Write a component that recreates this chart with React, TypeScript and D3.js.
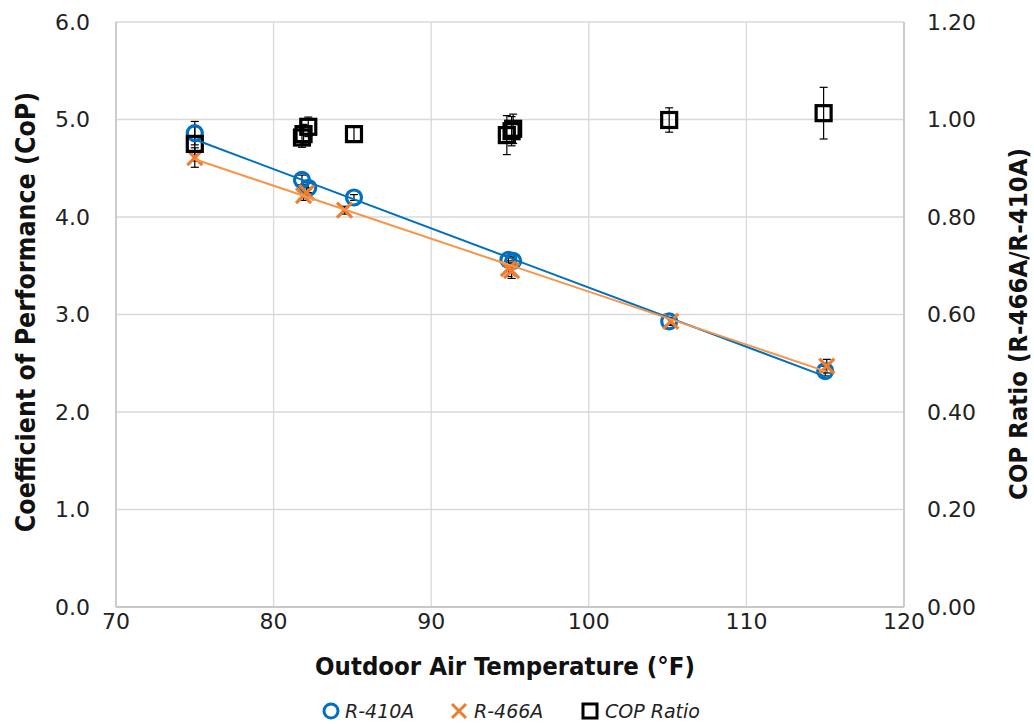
import React from "react";
import * as d3 from "d3";

// R-410A
const tempsA = [75, 81.8, 82.2, 85.1, 94.9, 95.2, 105.1, 115];
const copA = [4.86, 4.38, 4.3, 4.2, 3.56, 3.55, 2.93, 2.42];
const errA = [0.12, 0.05, 0.05, 0.03, 0.04, 0.04, 0.04, 0.05];
// R-466A
const tempsB = [75, 81.9, 82.1, 84.5, 94.9, 95.1, 105.2, 115.1];
const copB = [4.61, 4.22, 4.25, 4.07, 3.47, 3.45, 2.93, 2.47];
const errB = [0.1, 0.05, 0.05, 0.04, 0.08, 0.08, 0.04, 0.07];
// COP Ratio
const tempsR = [75, 81.8, 81.9, 82.2, 85.1, 94.8, 95.1, 95.2, 105.1, 114.9];
const ratio = [0.95, 0.963, 0.97, 0.985, 0.97, 0.968, 0.976, 0.981, 0.999, 1.013];
const errR = [0.035, 0.02, 0.02, 0.02, 0.015, 0.04, 0.03, 0.03, 0.025, 0.053];

const xTicks = [70, 80, 90, 100, 110, 120];
const yTicks = [0, 1, 2, 3, 4, 5, 6];
const y2Ticks = [0, 0.2, 0.4, 0.6, 0.8, 1.0, 1.2];

const BLUE = "#0070C0";
const ORANGE = "#ED7D31";
const ORANGE_LINE = "#F7964A";

function fit(xs: number[], ys: number[]) {
  const mx = d3.mean(xs)!;
  const my = d3.mean(ys)!;
  let num = 0, den = 0;
  xs.forEach((x, i) => { num += (x - mx) * (ys[i] - my); den += (x - mx) ** 2; });
  const m = num / den;
  const b = my - m * mx;
  const [x0, x1] = d3.extent(xs) as [number, number];
  return [[x0, m * x0 + b], [x1, m * x1 + b]] as [number, number][];
}

export default function App() {
  const W = 1034, H = 724;
  const L = 116, R = 904, T = 22, B = 607;
  const x = d3.scaleLinear().domain([70, 120]).range([L, R]);
  const y = d3.scaleLinear().domain([0, 6]).range([B, T]);
  const y2 = d3.scaleLinear().domain([0, 1.2]).range([B, T]);
  const line = d3.line<[number, number]>().x(d => x(d[0])).y(d => y(d[1]));
  const fitA = fit(tempsA, copA);
  const fitB = fit(tempsB, copB);
  const tickFont = "'DejaVu Sans', sans-serif";
  const titleFont = "'DejaVu Sans Condensed', 'DejaVu Sans', sans-serif";
  const cap = 4;
  const ms = 7.5;
  const errBar = (cx: number, y0: number, y1: number, key: string) => (
    <g key={key} stroke="#000" strokeWidth={1.2}>
      <line x1={cx} x2={cx} y1={y0} y2={y1} />
      <line x1={cx - cap} x2={cx + cap} y1={y0} y2={y0} />
      <line x1={cx - cap} x2={cx + cap} y1={y1} y2={y1} />
    </g>
  );
  return (
    <svg width={W} height={H} style={{ position: "absolute", left: 0, top: 0, background: "#fff" }}>
      {/* grid */}
      {yTicks.map(t => (
        <line key={"gy" + t} x1={L} x2={R} y1={y(t)} y2={y(t)} stroke="#D9D9D9" strokeWidth={1.3} />
      ))}
      {xTicks.map(t => (
        <line key={"gx" + t} x1={x(t)} x2={x(t)} y1={T} y2={B} stroke="#D9D9D9" strokeWidth={1.3} />
      ))}
      <line x1={L} x2={L} y1={T} y2={B} stroke="#BFBFBF" strokeWidth={1.3} />
      <line x1={R} x2={R} y1={T} y2={B} stroke="#BFBFBF" strokeWidth={1.3} />
      <line x1={L} x2={R} y1={B} y2={B} stroke="#BFBFBF" strokeWidth={1.3} />

      {/* tick labels */}
      {yTicks.map(t => (
        <text key={"ly" + t} x={90} y={y(t)} dy="0.36em" textAnchor="end" fontFamily={tickFont} fontSize={22} fill="#222">
          {t.toFixed(1)}
        </text>
      ))}
      {y2Ticks.map(t => (
        <text key={"ly2" + t} x={927} y={y2(t)} dy="0.36em" textAnchor="start" fontFamily={tickFont} fontSize={22} fill="#222">
          {t.toFixed(2)}
        </text>
      ))}
      {xTicks.map(t => (
        <text key={"lx" + t} x={x(t)} y={629} textAnchor="middle" fontFamily={tickFont} fontSize={22} fill="#222">
          {t}
        </text>
      ))}

      {/* titles */}
      <text x={505} y={675} textAnchor="middle" fontFamily={titleFont} fontWeight="bold" fontSize={25.5} fill="#111">
        Outdoor Air Temperature (°F)
      </text>
      <text transform={`translate(35,312) rotate(-90)`} textAnchor="middle" fontFamily={titleFont} fontWeight="bold" fontSize={26.5} fill="#111">
        Coefficient of Performance (CoP)
      </text>
      <text transform={`translate(1027,324) rotate(-90)`} textAnchor="middle" fontFamily={titleFont} fontWeight="bold" fontSize={25.5} fill="#111">
        COP Ratio (R-466A/R-410A)
      </text>

      {/* error bars */}
      {tempsA.map((t, i) => errBar(x(t), y(copA[i] + errA[i]), y(copA[i] - errA[i]), "ea" + i))}
      {tempsB.map((t, i) => errBar(x(t), y(copB[i] + errB[i]), y(copB[i] - errB[i]), "eb" + i))}
      {tempsR.map((t, i) => errBar(x(t), y2(ratio[i] + errR[i]), y2(ratio[i] - errR[i]), "er" + i))}

      {/* R-410A circles */}
      {tempsA.map((t, i) => (
        <circle key={"a" + i} cx={x(t)} cy={y(copA[i])} r={ms} fill="none" stroke={BLUE} strokeWidth={3.2} />
      ))}
      {/* R-466A crosses */}
      {tempsB.map((t, i) => {
        const cx = x(t), cy = y(copB[i]), s = ms;
        return (
          <g key={"b" + i} stroke={ORANGE} strokeWidth={3.2}>
            <line x1={cx - s} x2={cx + s} y1={cy - s} y2={cy + s} />
            <line x1={cx - s} x2={cx + s} y1={cy + s} y2={cy - s} />
          </g>
        );
      })}
      {/* COP ratio squares */}
      {tempsR.map((t, i) => (
        <rect key={"r" + i} x={x(t) - ms} y={y2(ratio[i]) - ms} width={ms * 2} height={ms * 2} fill="none" stroke="#000" strokeWidth={3.2} />
      ))}

      {/* trendlines */}
      <path d={line(fitA)!} fill="none" stroke={BLUE} strokeWidth={2} />
      <path d={line(fitB)!} fill="none" stroke={ORANGE_LINE} strokeWidth={2} />

      {/* legend */}
      <g fontFamily={tickFont} fontStyle="italic" fontSize={19} fill="#222">
        <circle cx={331} cy={711} r={7} fill="none" stroke={BLUE} strokeWidth={3} />
        <text x={345} y={718}>R-410A</text>
        <g stroke={ORANGE} strokeWidth={3}>
          <line x1={452} x2={466} y1={704} y2={718} />
          <line x1={452} x2={466} y1={718} y2={704} />
        </g>
        <text x={474} y={718}>R-466A</text>
        <rect x={583} y={704} width={14} height={14} fill="none" stroke="#000" strokeWidth={3} />
        <text x={605} y={718}>COP Ratio</text>
      </g>
    </svg>
  );
}
